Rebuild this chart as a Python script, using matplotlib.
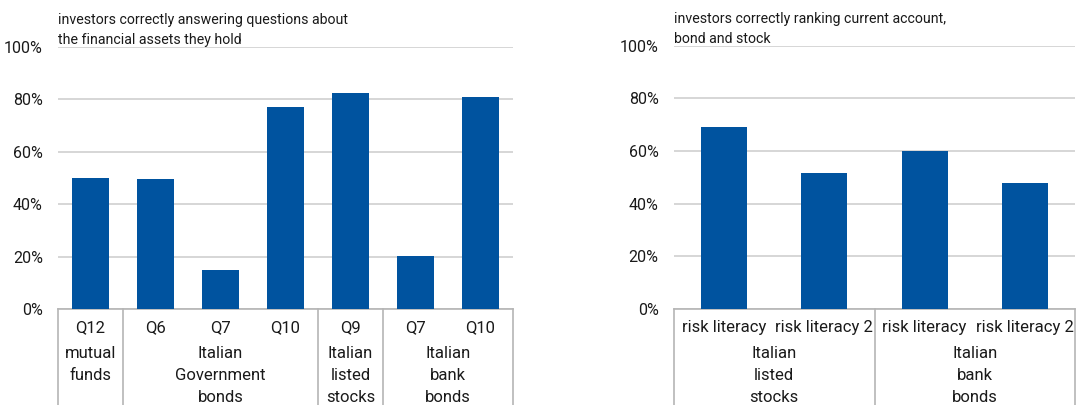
import matplotlib
matplotlib.use("Agg")
import matplotlib.pyplot as plt
import numpy as np

plt.rcParams['font.family'] = ['Roboto', 'DejaVu Sans']

# left panel data
left_title = "investors correctly answering questions about\nthe financial assets they hold"
left_cats = ['Q12', 'Q6', 'Q7', 'Q10', 'Q9', 'Q7', 'Q10']
left_vals = [50, 49.5, 15, 77, 82.5, 20.3, 80.8]
left_groups = ['mutual\nfunds', 'Italian\nGovernment\nbonds', 'Italian\nlisted\nstocks', 'Italian\nbank\nbonds']
left_sizes = [1, 3, 1, 2]

# right panel data
right_title = "investors correctly ranking current account,\nbond and stock"
right_cats = ['risk literacy', 'risk literacy 2', 'risk literacy', 'risk literacy 2']
right_vals = [69.3, 51.8, 60.2, 47.8]
right_groups = ['Italian\nlisted\nstocks', 'Italian\nbank\nbonds']
right_sizes = [2, 2]

blue = '#00539F'
grid_c = '#cfcfcf'
txt_c = '#1a1a1a'

fig = plt.figure(figsize=(10.85, 4.05), dpi=100)
ax1 = fig.add_axes([0.0535, 0.237, 0.4194, 0.647])
ax2 = fig.add_axes([0.6212, 0.237, 0.3696, 0.650])


def draw(ax, cats, vals, groups, sizes, title, width):
    x = np.arange(len(cats))
    ax.bar(x, vals, width=width, color=blue, zorder=3)
    ax.set_xlim(-0.5, len(cats) - 0.5)
    ax.set_ylim(0, 100)
    ax.set_yticks([0, 20, 40, 60, 80, 100])
    ax.set_yticklabels([f'{v}%' for v in [0, 20, 40, 60, 80, 100]])
    ax.yaxis.grid(True, color=grid_c, lw=1.2, zorder=0)
    ax.set_axisbelow(True)
    for s in ['top', 'right', 'left']:
        ax.spines[s].set_visible(False)
    ax.spines['bottom'].set_color('#b5b5b5')
    ax.spines['bottom'].set_linewidth(1.2)
    ax.tick_params(axis='y', length=0, labelsize=11.5, colors=txt_c, pad=11)
    ax.tick_params(axis='x', length=0, labelsize=12, colors=txt_c, pad=8)
    ax.set_xticks(x)
    ax.set_xticklabels(cats)
    # group separators and labels
    start = 0
    edges = [-0.5]
    for g, n in zip(groups, sizes):
        centre = start + (n - 1) / 2
        ax.annotate(g, xy=(centre, 0), xycoords=('data', 'axes fraction'),
                    xytext=(0, -37), textcoords='offset pixels',
                    ha='center', va='top', fontsize=12, color=txt_c,
                    linespacing=1.6, annotation_clip=False)
        start += n
        edges.append(start - 0.5)
    for e in edges:
        ax.axvline(e, ymin=-0.4, ymax=0, color='#b5b5b5', lw=1.2, clip_on=False)
    ax.text(0, 1.0, title, transform=ax.transAxes, ha='left', va='bottom',
            fontsize=10.2, color=txt_c, linespacing=1.55)


draw(ax1, left_cats, left_vals, left_groups, left_sizes, left_title, 0.56)
draw(ax2, right_cats, right_vals, right_groups, right_sizes, right_title, 0.46)

fig.savefig('out.png', dpi=100)
